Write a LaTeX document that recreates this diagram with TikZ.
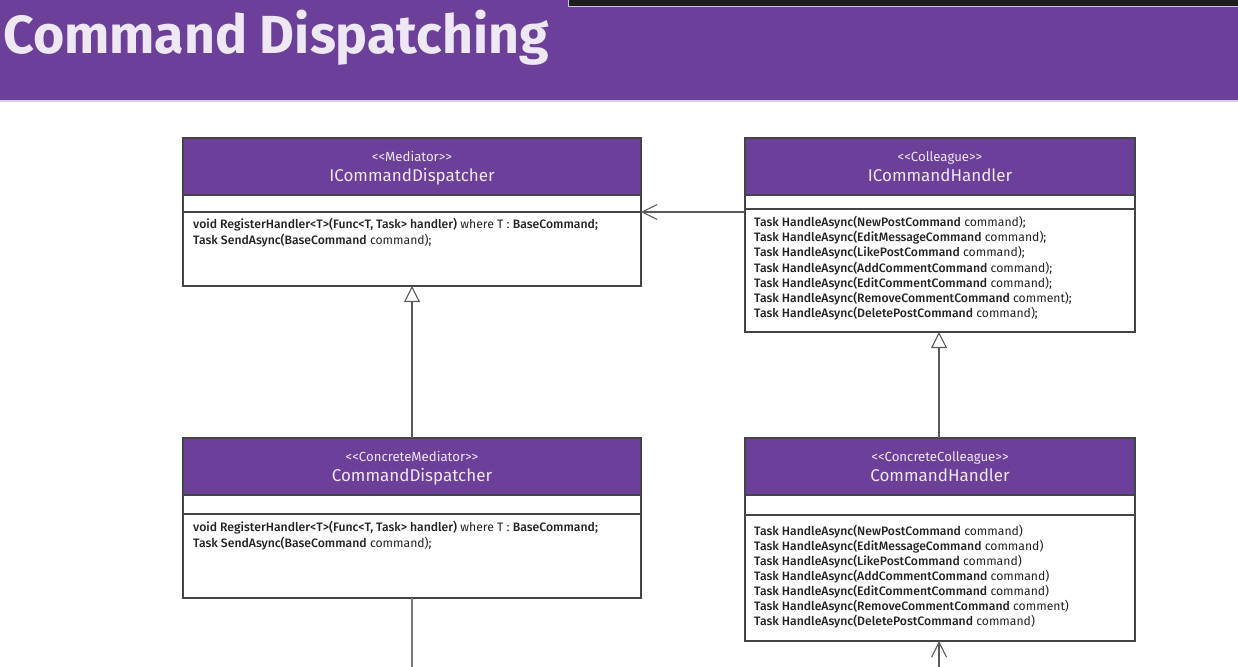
\documentclass[tikz,border=0pt]{standalone}
\usepackage{fontspec}
\setmainfont{Fira Sans}
\newfontfamily\medfont{Fira Sans Medium}
\usetikzlibrary{arrows.meta}

\definecolor{banner}{HTML}{6C3F98}
\definecolor{bannerline}{HTML}{D9CCE6}
\definecolor{darkbar}{HTML}{1E1E1E}
\definecolor{darkbarline}{HTML}{CFC3DC}
\definecolor{headtext}{HTML}{EEE8F4}
\definecolor{boxedge}{HTML}{444444}
\definecolor{linkcol}{HTML}{5A5A5A}
\definecolor{codetext}{HTML}{222222}

\newcommand\md[1]{{\medfont #1}}
\newcommand\stype[1]{<{}<#1>{}>}

\tikzset{
  classframe/.style={anchor=north west, inner sep=0pt, outer sep=0pt, fill=white},
  boxline/.style={draw=boxedge, line width=1.2pt},
  stereo/.style={anchor=base, inner sep=0pt, text=headtext, font=\fontsize{13.2}{15}\selectfont},
  classname/.style={anchor=base, inner sep=0pt, text=headtext, font=\fontsize{17}{20}\selectfont},
  member/.style={anchor=base west, inner sep=0pt, text=codetext, font=\fontsize{12.2}{14}\selectfont},
  assoc/.style={draw=linkcol, line width=1.1pt, -{Straight Barb[length=15pt, width=15pt, line width=1.1pt]}},
  realize/.style={draw=linkcol, line width=1.1pt, -{Triangle[open, length=16pt, width=16pt, line width=1.1pt]}},
  plainlink/.style={draw=linkcol!80, line width=1.6pt},
}

% name, x, y, width, height, header height, attribute-compartment bottom
\newcommand\umlclass[7]{%
  \node[classframe, minimum width=#4pt, minimum height=#5pt] (#1) at (#2,#3) {};
  \fill[banner] (#1.north west) rectangle ([yshift=-#6pt]#1.north east);
  \draw[boxline] ([yshift=-#6pt]#1.north west) -- ([yshift=-#6pt]#1.north east);
  \draw[boxline] ([yshift=-#7pt]#1.north west) -- ([yshift=-#7pt]#1.north east);
  \draw[boxline] (#1.north west) rectangle (#1.south east);
}

\begin{document}
\begin{tikzpicture}[x=1pt, y=-1pt]
\useasboundingbox (0,0) rectangle (1238,666);
\fill[white] (0,0) rectangle (1238,666);

% title banner
\fill[banner] (0,0) rectangle (1238,100.5);
\fill[bannerline] (0,100.5) rectangle (1238,102);
\fill[darkbarline] (567.5,0) rectangle (1238,7);
\fill[darkbar] (569,0) rectangle (1238,5.6);
\node[anchor=base west, inner sep=0pt, text=headtext, font=\bfseries\fontsize{53.6}{60}\selectfont] (title) at (3,54) {Command Dispatching};

% classes
\umlclass{icd}{183}{138}{458}{148}{57}{74}
\umlclass{ich}{745}{138}{390}{194}{57}{71}
\umlclass{cd}{183}{438}{458}{160}{57}{76}
\umlclass{ch}{745}{438}{390}{203}{57}{77}

% headers
\node[stereo] (icd-st) at (412,161) {\stype{Mediator}};
\node[classname] (icd-nm) at (412,181) {ICommandDispatcher};
\node[stereo] (ich-st) at (940,161) {\stype{Colleague}};
\node[classname] (ich-nm) at (940,181) {ICommandHandler};
\node[stereo] (cd-st) at (412,461) {\stype{ConcreteMediator}};
\node[classname] (cd-nm) at (412,481) {CommandDispatcher};
\node[stereo] (ch-st) at (940,461) {\stype{ConcreteColleague}};
\node[classname] (ch-nm) at (940,481) {CommandHandler};

% operations
\node[member] (icd-m1) at (193,228) {\md{void RegisterHandler<T>(Func<T, Task> handler)} where T : \md{BaseCommand;}};
\node[member] (icd-m2) at (193,244) {\md{Task SendAsync(BaseCommand} command);};
\node[member] (cd-m1) at (193,531) {\md{void RegisterHandler<T>(Func<T, Task> handler)} where T : \md{BaseCommand;}};
\node[member] (cd-m2) at (193,547) {\md{Task SendAsync(BaseCommand} command);};

\foreach \cmd/\arg [count=\i] in {NewPost/command, EditMessage/command, LikePost/command, AddComment/command, EditComment/command, RemoveComment/comment, DeletePost/command}{
  \node[member] (ich-m\i) at (754,{226.5+15.2*(\i-1)}) {\md{Task HandleAsync(\cmd Command} \arg);};
  \node[member] (ch-m\i) at (754,{535.5+15*(\i-1)}) {\md{Task HandleAsync(\cmd Command} \arg)};
}

% relations
\draw[assoc] (ich.west |- 0,212) -- (icd.east |- 0,212);
\draw[realize] (cd.north) -- (icd.south);
\draw[realize] (ch.north -| 939,0) -- (ich.south -| 939,0);
\coordinate (cd-out) at (412,668);
\coordinate (ch-in) at (939,668);
\draw[plainlink] (cd.south) -- (cd-out);
\draw[assoc] (ch-in) -- (ch.south -| 939,0);
\end{tikzpicture}
\end{document}
